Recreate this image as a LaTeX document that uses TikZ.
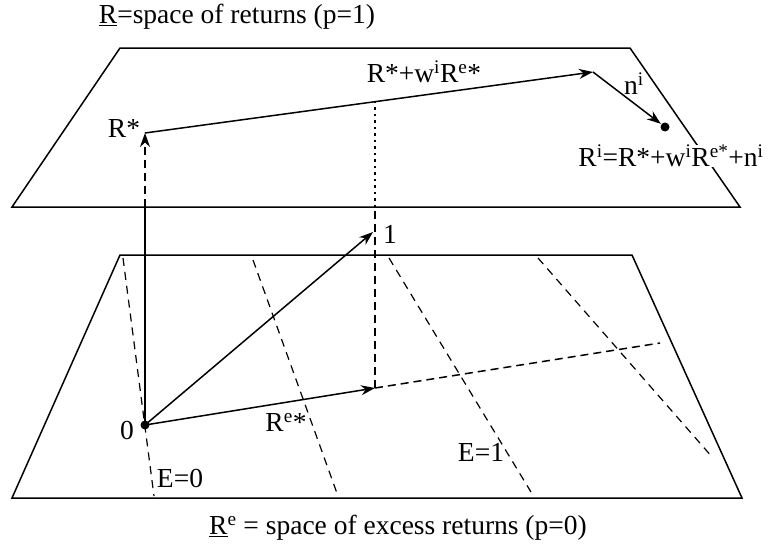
\documentclass[tikz,border=0pt]{standalone}
\usepackage{fontspec}
\setmainfont{Liberation Serif}
\usetikzlibrary{arrows.meta}
\begin{document}
\begin{tikzpicture}[x=1pt,y=-1pt,line width=1.5pt,
  lbl/.style={font=\fontsize{27.5}{30}\selectfont,inner sep=0pt},
  vec/.style={-{Stealth[length=14pt,width=10pt]}},
  iso/.style={dash pattern=on 8pt off 6pt,line width=1.2pt},
  hid/.style={dash pattern=on 8pt off 5pt,line width=1.5pt},
  thk/.style={dash pattern=on 8pt off 5pt,line width=2.6pt},
  dots/.style={dash pattern=on 2.5pt off 4pt,line width=2.6pt},
  dot/.style={circle,fill=black,inner sep=0pt,minimum size=9pt}]
\useasboundingbox (0,0) rectangle (769,546);
% planes
\draw (12,207) -- (740,207) -- (630,48) -- (120,48) -- cycle;
\draw (12,498) -- (742,498) -- (632,255) -- (120,255) -- cycle;
% points
\coordinate (O) at (145,425);
\coordinate (Rs) at (145,133);
\coordinate (Re) at (375,388);
\coordinate (One) at (373,232);
\coordinate (Top) at (375,100);
\coordinate (Cross) at (375,207);
\coordinate (Base) at (145,207);
\coordinate (Rw) at (593,72);
\coordinate (Ext) at (660,343);
% iso-expectation lines
\draw[iso] (123,258) -- (154,496);
\draw[iso] (253,260) -- (338,496);
\draw[iso] (389,258) -- (531,492);
\draw[iso] (538,258) -- (713,458);
\draw[hid] (Re) -- (Ext);
% vertical
\draw (O) -- (Base);
\draw[hid,vec] (Base) -- (Rs);
\draw[thk] (Re) -- (Cross);
\draw[dots] (Cross) -- (Top);
% vectors
\draw[vec] (O) -- (Re);
\draw[vec] (O) -- (One);
\draw[vec] (Rs) -- (Rw);
\node[dot] (Ri) at (665,127) {};
\draw[vec] (Rw) -- (Ri);
\node[dot] (Od) at (O) {};
% labels
\node[lbl] (t1) at (237,17) {\underline{R}=space of returns (p=1)};
\node[lbl] (t2) at (398,528) {\underline{R}\textsuperscript{e} = space of excess returns (p=0)};
\node[lbl] (l0) at (127,430) {0};
\node[lbl] (l1) at (390,234) {1};
\node[lbl] (lRs) at (124,128) {R*};
\node[lbl] (lRw) at (424,72) {R*+w\textsuperscript{i}R\textsuperscript{e}*};
\node[lbl] (ln) at (634,84) {n\textsuperscript{i}};
\node[lbl,fill=white] (lRi) at (671,156) {R\textsuperscript{i}=R*+w\textsuperscript{i}R\textsuperscript{e*}+n\textsuperscript{i}};
\node[lbl] (lRe) at (286,422) {R\textsuperscript{e}*};
\node[lbl] (lE0) at (180,478) {E=0};
\node[lbl] (lE1) at (481,452) {E=1};
\end{tikzpicture}
\end{document}
